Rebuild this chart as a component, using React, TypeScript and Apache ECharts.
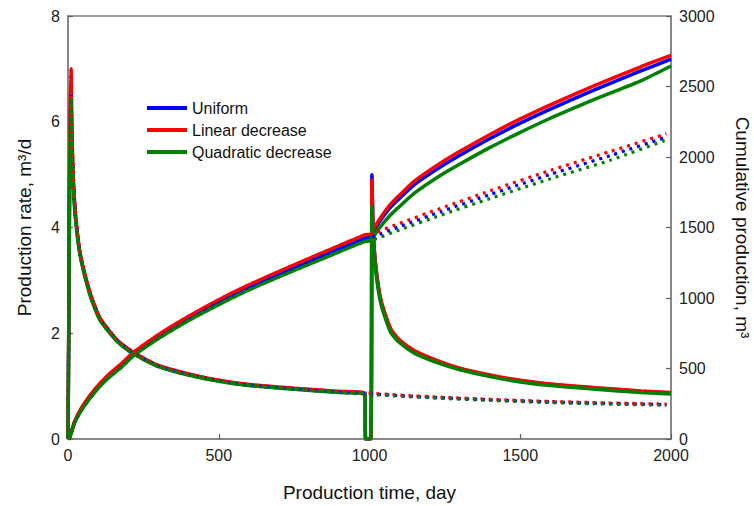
import React, { useEffect, useRef } from "react";
import * as echarts from "echarts";

// ---- Data ----
const legendNames = ["Uniform", "Linear decrease", "Quadratic decrease"];
const colors = ["#0000ff", "#ff0000", "#008000"];

// Production rate (solid, with re-fracturing at ~1000 d), m3/d
const rateDays = [0, 3, 6, 10, 13, 18, 25, 40, 73, 106, 162, 216, 300, 400, 500, 600, 750, 900, 985, 987, 1004, 1008, 1012, 1020, 1038, 1070, 1100, 1150, 1236, 1300, 1400, 1500, 1600, 1750, 1900, 2000];
const rateUniform = [0, 2.5, 5.5, 6.6, 5.6, 4.8, 4.2, 3.5, 2.75, 2.27, 1.87, 1.63, 1.38, 1.22, 1.1, 1.02, 0.95, 0.89, 0.86, 0, 0, 5.0, 4.0, 3.3, 2.6, 2.06, 1.85, 1.65, 1.44, 1.33, 1.2, 1.1, 1.03, 0.96, 0.9, 0.87];
const rateLinear = [0, 2.6, 5.8, 7.0, 5.8, 4.9, 4.25, 3.52, 2.77, 2.29, 1.88, 1.64, 1.39, 1.23, 1.11, 1.03, 0.96, 0.9, 0.87, 0, 0, 4.9, 4.0, 3.32, 2.63, 2.09, 1.87, 1.67, 1.46, 1.34, 1.21, 1.11, 1.04, 0.97, 0.91, 0.88];
const rateQuadratic = [0, 2.4, 5.3, 6.45, 5.5, 4.75, 4.15, 3.47, 2.72, 2.25, 1.85, 1.61, 1.37, 1.21, 1.09, 1.01, 0.94, 0.88, 0.85, 0, 0, 4.4, 3.8, 3.2, 2.55, 2.02, 1.82, 1.62, 1.42, 1.31, 1.18, 1.08, 1.01, 0.94, 0.88, 0.85];
const shutInIndex = 18; // last rate point before the shut-in (day 985)

// Production rate without re-fracturing after day 985 (dotted), m3/d
const rateNoFracDays = [985, 1100, 1236, 1400, 1600, 1800, 1985];
const rateNoFracUniform = [0.86, 0.82, 0.78, 0.74, 0.7, 0.67, 0.65];
const rateNoFracLinear = [0.87, 0.83, 0.79, 0.75, 0.71, 0.68, 0.66];
const rateNoFracQuadratic = [0.85, 0.81, 0.77, 0.73, 0.69, 0.66, 0.64];

// Cumulative production (solid), m3
const cumDays = [0, 5, 10, 23, 50, 90, 130, 179, 216, 300, 400, 500, 600, 750, 900, 985, 1005, 1010, 1020, 1040, 1070, 1100, 1150, 1236, 1300, 1400, 1500, 1600, 1750, 1900, 2000];
const cumUniform = [0, 10, 40, 125, 230, 345, 435, 525, 600, 725, 855, 970, 1075, 1215, 1350, 1425, 1430, 1450, 1495, 1562, 1645, 1708, 1806, 1930, 2012, 2131, 2240, 2340, 2480, 2610, 2695];
const cumLinear = [0, 11, 43, 132, 240, 355, 447, 538, 612, 740, 870, 988, 1093, 1235, 1372, 1448, 1453, 1470, 1512, 1580, 1665, 1730, 1830, 1957, 2040, 2160, 2270, 2370, 2510, 2640, 2720];
const cumQuadratic = [0, 9, 38, 120, 222, 335, 425, 512, 588, 712, 840, 953, 1057, 1195, 1328, 1402, 1407, 1422, 1458, 1515, 1590, 1650, 1745, 1870, 1950, 2068, 2175, 2275, 2412, 2540, 2645];
const refracIndex = 15; // last cumulative point before re-fracturing (day 985)

// Cumulative production without re-fracturing after day 1005 (dotted), m3
const cumNoFracDays = [1005, 1100, 1236, 1400, 1600, 1800, 1985];
const cumNoFracUniform = [1430, 1507, 1612, 1734, 1877, 2011, 2142];
const cumNoFracLinear = [1453, 1530, 1636, 1760, 1905, 2040, 2165];
const cumNoFracQuadratic = [1407, 1483, 1587, 1706, 1846, 1978, 2122];

const xTitle = "Production time, day";
const yLeftTitle = "Production rate, m³/d";
const yRightTitle = "Cumulative production, m³";

const FONT = "'Liberation Sans', Arial, sans-serif";

function pairs(xs: number[], ys: number[]) {
  return xs.map((x, i) => [x, ys[i]]);
}

export default function App() {
  const ref = useRef<HTMLDivElement>(null);
  useEffect(() => {
    if (!ref.current) return;
    const chart = echarts.init(ref.current, undefined, { renderer: "svg" });
    const rates = [rateUniform, rateLinear, rateQuadratic];
    const ratesNF = [rateNoFracUniform, rateNoFracLinear, rateNoFracQuadratic];
    const cums = [cumUniform, cumLinear, cumQuadratic];
    const cumsNF = [cumNoFracUniform, cumNoFracLinear, cumNoFracQuadratic];
    const solid: any[] = [];
    const dots: any[] = [];
    const dotted = { type: [3, 5], width: 3.2 };
    for (let i = 0; i < 3; i++) {
      const c = colors[i];
      solid.push({
        name: legendNames[i], type: "line", yAxisIndex: 0, showSymbol: false, smooth: 0.2,
        data: pairs(rateDays, rates[i]), lineStyle: { color: c, width: 3.5 }, itemStyle: { color: c },
      });
      solid.push({
        name: legendNames[i] + " cumulative", type: "line", yAxisIndex: 1, showSymbol: false, smooth: 0.2,
        data: pairs(cumDays, cums[i]), lineStyle: { color: c, width: 3.5 }, itemStyle: { color: c },
      });
      const rateNF = pairs(rateDays.slice(0, shutInIndex), rates[i].slice(0, shutInIndex)).concat(pairs(rateNoFracDays, ratesNF[i]));
      const cumNF = pairs(cumDays.slice(0, refracIndex + 1), cums[i].slice(0, refracIndex + 1)).concat(pairs(cumNoFracDays, cumsNF[i]));
      dots.push({
        name: legendNames[i] + " rate (no refrac)", type: "line", yAxisIndex: 0, showSymbol: false, smooth: 0.2,
        data: rateNF, lineStyle: { color: c, ...dotted }, itemStyle: { color: c },
      });
      dots.push({
        name: legendNames[i] + " cumulative (no refrac)", type: "line", yAxisIndex: 1, showSymbol: false, smooth: 0.2,
        data: cumNF, lineStyle: { color: c, ...dotted }, itemStyle: { color: c },
      });
    }
    const axisCommon = {
      axisLine: { show: true, lineStyle: { color: "#808080", width: 1.5 } },
      axisTick: { show: true, inside: true, length: 5, lineStyle: { color: "#606060", width: 1.2 } },
      axisLabel: { fontSize: 16, color: "#222", fontFamily: FONT, margin: 8, formatter: (v: number) => String(v) },
      splitLine: { show: false },
      nameLocation: "middle" as const,
      nameTextStyle: { fontSize: 19, color: "#111", fontFamily: FONT },
    };
    chart.setOption({
      animation: false,
      grid: {
        left: 68, right: 83, top: 16, bottom: 67, show: true, borderColor: "#808080", borderWidth: 1.5,
        containLabel: false, outerBoundsMode: "none",
      },
      legend: {
        data: legendNames, orient: "vertical", left: 142, top: 95, itemWidth: 40, itemHeight: 4, itemGap: 6, icon: "rect",
        textStyle: { fontSize: 16, color: "#111", fontFamily: FONT },
      },
      xAxis: { type: "value", min: 0, max: 2000, interval: 500, ...axisCommon, name: xTitle, nameGap: 44 },
      yAxis: [
        { type: "value", min: 0, max: 8, interval: 2, position: "left", ...axisCommon, name: yLeftTitle, nameGap: 34 },
        { type: "value", min: 0, max: 3000, interval: 500, position: "right", ...axisCommon, name: yRightTitle, nameGap: 62, nameRotate: -90 },
      ],
      series: solid.concat(dots),
    });
    return () => chart.dispose();
  }, []);
  return <div ref={ref} style={{ position: "fixed", left: 0, top: 0, width: 754, height: 506, background: "#fff" }} />;
}
